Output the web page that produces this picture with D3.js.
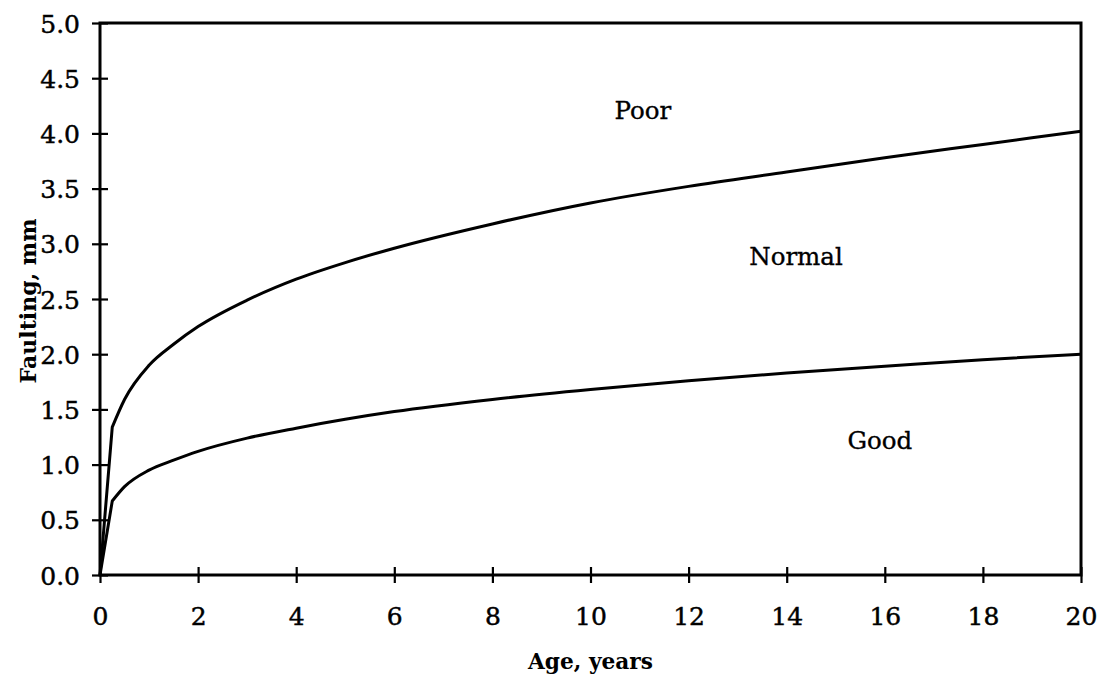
<!DOCTYPE html>
<html>
<head>
<meta charset="utf-8">
<script src="https://cdn.jsdelivr.net/npm/d3@7"></script>
<style>
  body { margin: 0; background: #fff; }
  svg { display: block; }
  text { font-family: "DejaVu Serif", serif; fill: #000; }
</style>
</head>
<body>
<svg id="chart" width="1102" height="680"></svg>
<script>
// Data
const ages = [0, 0.25, 0.5, 1, 1.5, 2, 3, 4, 5, 6, 8, 10, 12, 14, 16, 18, 20];
const upperLimit = [0, 1.34, 1.59, 1.90, 2.09, 2.25, 2.49, 2.68, 2.83, 2.96, 3.18, 3.37, 3.52, 3.65, 3.78, 3.90, 4.02];
const lowerLimit = [0, 0.67, 0.80, 0.95, 1.04, 1.12, 1.24, 1.33, 1.41, 1.48, 1.59, 1.68, 1.76, 1.83, 1.89, 1.95, 2.00];
const xTicks = [0, 2, 4, 6, 8, 10, 12, 14, 16, 18, 20];
const yTicks = [0, 0.5, 1.0, 1.5, 2.0, 2.5, 3.0, 3.5, 4.0, 4.5, 5.0];
const zoneLabels = ["Poor", "Normal", "Good"];
const zoneAt = [[11.07, 4.13], [14.19, 2.81], [15.9, 1.14]];
const xTitle = "Age, years";
const yTitle = "Faulting, mm";

const svg = d3.select("#chart");
const mLeft = 100, mRight = 1081, mTop = 23, mBottom = 575;

const x = d3.scaleLinear().domain([0, 20]).range([mLeft, mRight]);
const y = d3.scaleLinear().domain([0, 5]).range([mBottom, mTop]);

// frame
svg.append("rect")
  .attr("x", mLeft).attr("y", mTop)
  .attr("width", mRight - mLeft).attr("height", mBottom - mTop)
  .attr("fill", "none").attr("stroke", "#000").attr("stroke-width", 3);

// axes
const xAxis = svg.append("g").attr("transform", `translate(0,${mBottom})`)
  .call(d3.axisBottom(x).tickValues(xTicks).tickFormat(d3.format("d")).tickSize(8).tickPadding(0));
xAxis.select(".domain").remove();
xAxis.selectAll(".tick line").attr("y1", -8).attr("y2", 8).attr("stroke-width", 2.2);
xAxis.selectAll(".tick text").attr("y", 50).attr("dy", 0)
  .style("font-size", "25px").style("font-family", '"DejaVu Serif", serif')
  .attr("stroke", "#000").attr("stroke-width", 0.45);

const yAxis = svg.append("g").attr("transform", `translate(${mLeft},0)`)
  .call(d3.axisLeft(y).tickValues(yTicks).tickFormat(d3.format(".1f")).tickSize(8));
yAxis.select(".domain").remove();
yAxis.selectAll(".tick line").attr("x1", -8).attr("x2", 8).attr("stroke-width", 2.2);
yAxis.selectAll(".tick text").attr("x", -20).attr("dy", "0.36em")
  .style("font-size", "25px").style("font-family", '"DejaVu Serif", serif')
  .attr("stroke", "#000").attr("stroke-width", 0.45);

// curves: straight first segment from the origin, smooth thereafter
const smooth = d3.line().x(d => x(d[0])).y(d => y(d[1])).curve(d3.curveMonotoneX);
const straight = d3.line().x(d => x(d[0])).y(d => y(d[1]));
[upperLimit, lowerLimit].forEach(vals => {
  const pts = ages.map((a, i) => [a, vals[i]]);
  const d = straight(pts.slice(0, 2)) + smooth(pts.slice(1)).replace(/^M[^C]*/, "");
  svg.append("path")
    .attr("d", d)
    .attr("fill", "none").attr("stroke", "#000").attr("stroke-width", 3)
    .attr("stroke-linejoin", "miter");
});

// zone labels
zoneLabels.forEach((t, i) => {
  svg.append("text")
    .attr("x", x(zoneAt[i][0])).attr("y", y(zoneAt[i][1]))
    .attr("text-anchor", "middle")
    .style("font-size", "24.5px")
    .attr("stroke", "#000").attr("stroke-width", 0.35)
    .text(t);
});

// axis titles
svg.append("text")
  .attr("x", (mLeft + mRight) / 2).attr("y", 669)
  .attr("text-anchor", "middle")
  .style("font-size", "21.7px").style("font-weight", "bold")
  .text(xTitle);

svg.append("text")
  .attr("transform", `translate(36,${(mTop + mBottom) / 2 + 2}) rotate(-90)`)
  .attr("text-anchor", "middle")
  .style("font-size", "22px").style("font-weight", "bold")
  .text(yTitle);
</script>
</body>
</html>
